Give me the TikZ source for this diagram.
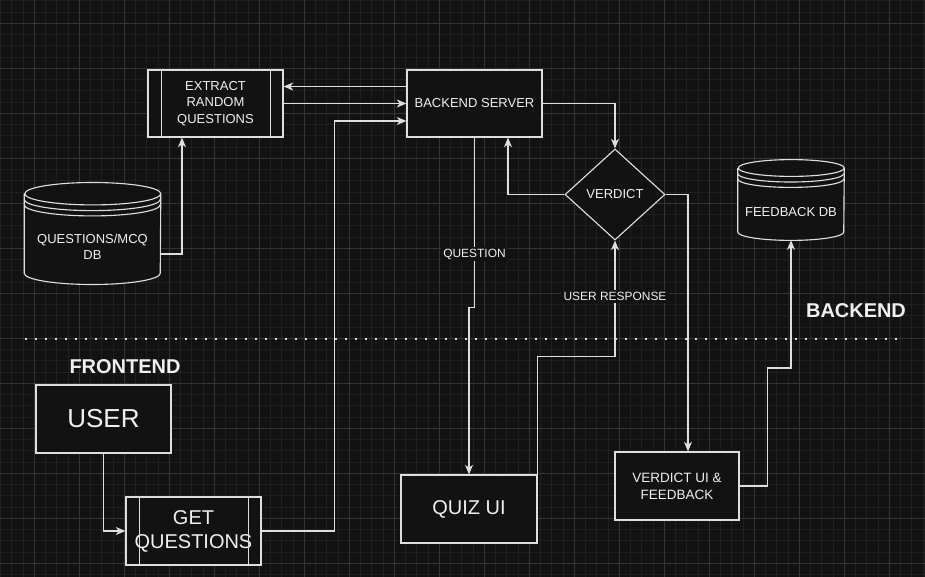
\documentclass[tikz,border=0pt]{standalone}
\usepackage{fontspec}
\setmainfont{Liberation Sans}
\usetikzlibrary{arrows.meta,calc,shapes.geometric}
\definecolor{bgc}{RGB}{18,18,18}
\definecolor{minorc}{RGB}{31,31,31}
\definecolor{majorc}{RGB}{52,52,52}
\definecolor{linec}{RGB}{222,222,222}
\definecolor{txtc}{RGB}{240,240,240}
\tikzset{
  box/.style={draw=linec,fill=bgc,text=txtc,line width=0.8pt,inner sep=0pt,align=center,
    font=\fontsize{9.25}{11.7}\selectfont},
  dbshape/.style={draw=none,inner sep=0pt},
  dbline/.style={draw=linec,fill=bgc,line width=0.8pt},
  txt/.style={text=txtc,align=center,inner sep=0pt,font=\fontsize{9.25}{11.4}\selectfont},
  lbl/.style={fill=bgc,text=txtc,inner sep=1.5pt,font=\fontsize{8.5}{10}\selectfont},
  side/.style={text=txtc,inner sep=0pt,font=\fontsize{14.2}{17}\selectfont\bfseries},
  conn/.style={draw=linec,line width=0.8pt,-{Stealth[length=0.24cm,width=0.2cm,inset=0.07cm]}},
  plain/.style={draw=linec,line width=0.8pt},
  minorgrid/.style={draw=minorc,line width=0.6pt},
  majorgrid/.style={draw=majorc,line width=0.6pt}
}

\begin{document}
\begin{tikzpicture}[x=0.025cm,y=-0.025cm]
\useasboundingbox[fill=bgc] (0,0) rectangle (925,577);
\foreach \i in {0,...,82} \draw[minorgrid] ({0.55+11.25*\i},0) -- ({0.55+11.25*\i},577);
\foreach \i in {0,...,51} \draw[minorgrid] (0,{0.8+11.25*\i}) -- (925,{0.8+11.25*\i});
\foreach \i in {0,...,19} \draw[majorgrid] ({34.3+45*\i},0) -- ({34.3+45*\i},577);
\foreach \i in {0,...,12} \draw[majorgrid] (0,{23.3+45*\i}) -- (925,{23.3+45*\i});

\draw[linec,line width=1.4pt,dash pattern=on 0.05cm off 0.2cm] (25,339) -- (900,339);
\node[side] (backlbl) at (856,311) {BACKEND};
\node[side] (frontlbl) at (125,367) {FRONTEND};

\node[box,minimum width=3.375cm,minimum height=1.675cm] (extract) at (215.5,103.5) {EXTRACT\\RANDOM\\QUESTIONS};
\draw[plain] ($(extract.north west)+(14,0)$) -- ($(extract.south west)+(14,0)$);
\draw[plain] ($(extract.north east)+(-13,0)$) -- ($(extract.south east)+(-13,0)$);
\node[box,minimum width=3.375cm,minimum height=1.675cm] (backend) at (474.5,103.5) {BACKEND SERVER};

\node[dbshape,minimum width=3.4cm,minimum height=2.525cm] (qdb) at (92.5,233.5) {};
\draw[dbline] ($(qdb.north west)+(0,11)$) -- ($(qdb.south west)+(0,-11)$)
  arc[start angle=180,end angle=360,x radius=1.7cm,y radius=0.28cm]
  -- ($(qdb.north east)+(0,11)$)
  arc[start angle=0,end angle=180,x radius=1.7cm,y radius=0.28cm]
  arc[start angle=180,end angle=360,x radius=1.7cm,y radius=0.28cm];
\draw[plain] ($(qdb.north west)+(0,16.7)$) arc[start angle=180,end angle=360,x radius=1.7cm,y radius=0.28cm];
\draw[plain] ($(qdb.north west)+(0,22)$) arc[start angle=180,end angle=360,x radius=1.7cm,y radius=0.28cm];
\node[txt] (qdbtext) at ($(qdb)+(0,13.5)$) {QUESTIONS/MCQ\\DB};

\node[box,diamond,minimum width=2.5cm,minimum height=2.275cm] (verdict) at (615,194.5) {VERDICT};

\node[dbshape,minimum width=2.65cm,minimum height=2cm] (fdb) at (791,200) {};
\draw[dbline] ($(fdb.north west)+(0,8.3)$) -- ($(fdb.south west)+(0,-8.3)$)
  arc[start angle=180,end angle=360,x radius=1.325cm,y radius=0.21cm]
  -- ($(fdb.north east)+(0,8.3)$)
  arc[start angle=0,end angle=180,x radius=1.325cm,y radius=0.21cm]
  arc[start angle=180,end angle=360,x radius=1.325cm,y radius=0.21cm];
\draw[plain] ($(fdb.north west)+(0,13.9)$) arc[start angle=180,end angle=360,x radius=1.325cm,y radius=0.21cm];
\draw[plain] ($(fdb.north west)+(0,19.3)$) arc[start angle=180,end angle=360,x radius=1.325cm,y radius=0.21cm];
\node[txt] (fdbtext) at ($(fdb)+(0,12)$) {FEEDBACK DB};

\node[box,minimum width=3.375cm,minimum height=1.7cm,font=\fontsize{18.5}{22}\selectfont] (user) at (103.5,419) {USER};
\node[box,minimum width=3.375cm,minimum height=1.7cm,font=\fontsize{14.2}{17}\selectfont] (getq) at (193.5,531) {GET\\QUESTIONS};
\draw[plain] ($(getq.north west)+(14,0)$) -- ($(getq.south west)+(14,0)$);
\draw[plain] ($(getq.north east)+(-13,0)$) -- ($(getq.south east)+(-13,0)$);
\node[box,minimum width=3.4cm,minimum height=1.7cm,font=\fontsize{14.2}{17}\selectfont] (quiz) at (469,509) {QUIZ UI};
\node[box,minimum width=3.1cm,minimum height=1.7cm,font=\fontsize{9.6}{12}\selectfont] (vui) at (677,486) {VERDICT UI \&\\FEEDBACK};

\draw[conn] ($(backend.west)+(0,-17)$) -- ($(extract.east)+(0,-17)$);
\draw[conn] (extract.east) -- (backend.west);
\draw[conn] (getq.east) -- ++(72.5,0) |- ($(backend.west)+(0,17.5)$);
\draw[conn] ($(qdb.east)+(0,20.5)$) -| ($(extract.south)+(-33.5,0)$);
\draw[conn] (backend.south) -- node[lbl,pos=0.686]{QUESTION} ++(0,169.7) -| (quiz.north);
\draw[conn] (backend.east) -| (verdict.north);
\draw[conn] (verdict.west) -| ($(backend.south)+(33.5,0)$);
\draw[conn] (verdict.east) -| ($(vui.north)+(11,0)$);
\draw[conn] (quiz.north east) -- ++(0,-118) -| node[lbl,pos=0.76]{USER RESPONSE} (verdict.south);
\draw[conn] (vui.east) -- ++(28,0) -- ++(0,-118) -| (fdb.south);
\draw[conn] (user.south) |- (getq.west);

\end{tikzpicture}
\end{document}
